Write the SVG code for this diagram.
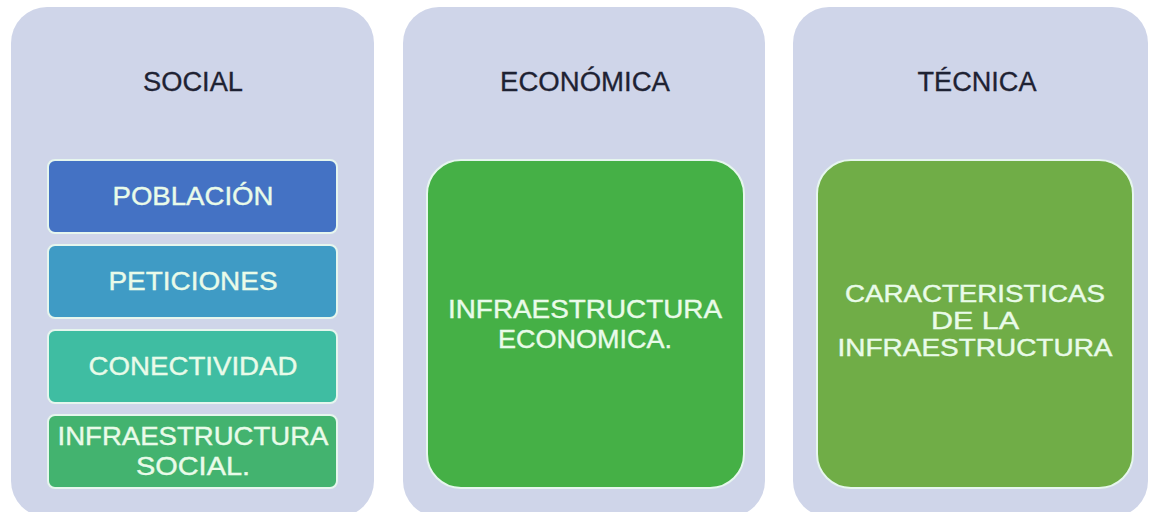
<svg xmlns="http://www.w3.org/2000/svg" width="1151" height="512" viewBox="0 0 1151 512">
<style>
.panel{fill:#cfd5e9;}
.title{font-family:"Liberation Sans",Arial,sans-serif;font-size:27px;fill:#1e2233;stroke:#1e2233;stroke-width:0.3;text-anchor:middle;}
.box{stroke:#e6f6ee;stroke-width:2;}
.lbl{font-family:"Liberation Sans",Arial,sans-serif;font-size:26px;fill:#e9fbe9;stroke:#e9fbe9;stroke-width:0.4;text-anchor:middle;}
.tight{font-size:23px;}
</style>
<rect width="1151" height="512" fill="#ffffff"/>
<g id="panel-social">
<rect class="panel" x="11" y="7" width="363" height="510" rx="36"/>
<text class="title" x="193" y="91" textLength="100" lengthAdjust="spacingAndGlyphs">SOCIAL</text>
</g>
<g id="poblacion">
<rect class="box" x="48" y="160" width="289" height="73" rx="7" fill="#4472c4"/>
<text class="lbl" x="193" y="205" textLength="161" lengthAdjust="spacingAndGlyphs">POBLACIÓN</text>
</g>
<g id="peticiones">
<rect class="box" x="48" y="245" width="289" height="73" rx="7" fill="#3f9bc5"/>
<text class="lbl" x="193" y="290" textLength="169" lengthAdjust="spacingAndGlyphs">PETICIONES</text>
</g>
<g id="conectividad">
<rect class="box" x="48" y="330" width="289" height="73" rx="7" fill="#3fbda2"/>
<text class="lbl" x="193" y="375" textLength="209" lengthAdjust="spacingAndGlyphs">CONECTIVIDAD</text>
</g>
<g id="infra-social">
<rect class="box" x="48" y="415" width="289" height="73" rx="7" fill="#43b36f"/>
<text class="lbl" x="193" y="445" textLength="271" lengthAdjust="spacingAndGlyphs">INFRAESTRUCTURA</text>
<text class="lbl" x="193" y="475" textLength="114" lengthAdjust="spacingAndGlyphs">SOCIAL.</text>
</g>
<g id="panel-economica">
<rect class="panel" x="403" y="7" width="362" height="510" rx="36"/>
<text class="title" x="585" y="91" textLength="170" lengthAdjust="spacingAndGlyphs">ECONÓMICA</text>
</g>
<g id="infra-economica">
<rect class="box" x="427" y="160" width="317" height="328" rx="34" fill="#45b046"/>
<text class="lbl" x="585" y="318" textLength="274" lengthAdjust="spacingAndGlyphs">INFRAESTRUCTURA</text>
<text class="lbl" x="585" y="348" textLength="174" lengthAdjust="spacingAndGlyphs">ECONOMICA.</text>
</g>
<g id="panel-tecnica">
<rect class="panel" x="793" y="7" width="355" height="510" rx="36"/>
<text class="title" x="977" y="91" textLength="119" lengthAdjust="spacingAndGlyphs">TÉCNICA</text>
</g>
<g id="caracteristicas">
<rect class="box" x="817" y="160" width="316" height="328" rx="34" fill="#70ad47"/>
<text class="lbl tight" x="975" y="302" textLength="260" lengthAdjust="spacingAndGlyphs">CARACTERISTICAS</text>
<text class="lbl tight" x="975" y="329" textLength="88" lengthAdjust="spacingAndGlyphs">DE LA</text>
<text class="lbl tight" x="975" y="356" textLength="275" lengthAdjust="spacingAndGlyphs">INFRAESTRUCTURA</text>
</g>
<g id="connectors"></g>
</svg>
